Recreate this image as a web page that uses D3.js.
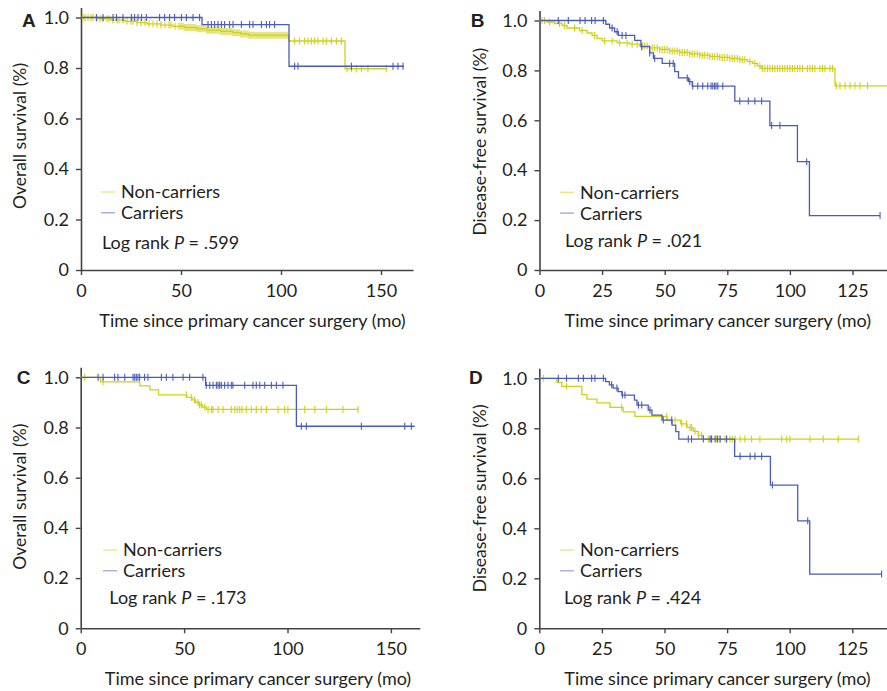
<!DOCTYPE html>
<html>
<head>
<meta charset="utf-8">
<script src="https://cdn.jsdelivr.net/npm/d3@7"></script>
<style>
  body { margin: 0; background: #fff; }
  svg text { font-family: Lato, "Noto Sans", sans-serif; fill: #231f20; }
</style>
</head>
<body>
<div id="vis"></div>
<script>
// survival curves: steps are [months, survival], censor marks are months

var yTicks = [0, 0.2, 0.4, 0.6, 0.8, 1.0];
var xTicksOS = [0, 50, 100, 150];
var xTicksDFS = [0, 25, 50, 75, 100, 125];
var seriesNames = ["Non-carriers", "Carriers"];
var pValues = [".599", ".021", ".173", ".424"];
var xTitle = "Time since primary cancer surgery (mo)";

// A - overall survival, whole cohort
var aNonSteps = [[0, 1], [8, 0.995], [15, 0.99], [22, 0.985], [28, 0.98], [33, 0.975], [40, 0.97], [46, 0.965],
  [52, 0.96], [58, 0.955], [63, 0.95], [70, 0.945], [76, 0.94], [80, 0.935], [84, 0.93], [104, 0.907], [132, 0.797]];
var aNonEnd = 153;
var aNonCensor = [1, 2, 3.5, 5, 6, 8, 9.5, 11, 13, 14, 16, 18, 19, 21, 23, 25, 26, 28, 30, 32, 34, 36, 38, 40, 42, 44, 45,
  47, 49, 50, 51, 52, 53, 54, 55, 56, 57, 58, 59, 60, 61, 62, 63, 64, 65, 66, 67, 68, 69, 70, 71, 72, 73, 74, 75, 76, 77,
  78, 79, 80, 81, 82, 83, 84, 85, 86, 87, 88, 89, 90, 91, 92, 93, 94, 95, 96, 97, 98, 99, 100, 101, 102, 103, 106.8, 109.3,
  111.8, 113.5, 115.2, 116.8, 118.5, 121, 122.7, 125.2, 127.7, 130.2, 133, 135.2, 137.7, 140.2, 143.5, 152.7];
var aCarSteps = [[0, 1], [60.5, 0.972], [104, 0.807]];
var aCarEnd = 161.5;
var aCarCensor = [7.7, 11, 16, 17.7, 21, 25.2, 26.8, 28.5, 30.2, 32.7, 39.3, 41.8, 44.3, 46.8, 50.2, 52.7, 56, 59.3, 63.5,
  65.2, 66.8, 68.5, 70.2, 71.8, 74.3, 76, 80.2, 84.3, 86, 90.2, 92.7, 94.3, 96.8, 106.8, 108.5, 135.2, 156, 158.5, 161];

// B - disease-free survival, whole cohort
var bNonSteps = [[0, 1], [3, 0.994], [6, 0.988], [9, 0.98], [11, 0.97], [16, 0.96], [19, 0.95], [21, 0.94], [23, 0.928],
  [25, 0.918], [31, 0.91], [36, 0.905], [40, 0.898], [44, 0.89], [48, 0.884], [52, 0.878], [56, 0.872], [60, 0.866],
  [64, 0.861], [68, 0.856], [72, 0.852], [76, 0.848], [80, 0.843], [83, 0.836], [85, 0.828], [87, 0.818], [88.5, 0.808],
  [118, 0.738]];
var bNonEnd = 139;
var bNonCensor = [1, 2, 4, 8, 10, 14, 17, 22, 26, 29, 32, 35, 37, 39, 41, 42, 43, 45, 46, 47, 48, 49, 50, 51, 52, 53, 54,
  55, 56, 57, 58, 59, 60, 61, 62, 63, 64, 65, 66, 67, 68, 69, 70, 71, 72, 73, 74, 75, 76, 77, 78, 79, 80, 81, 82, 84, 86,
  88, 89, 90, 91, 92, 93, 94, 95, 96, 97, 98, 99, 100, 101, 102, 103, 104, 105, 107, 108, 109, 110, 112, 113, 114, 116,
  117, 118.5, 120, 122, 124, 126, 128, 131];
var bCarSteps = [[0, 1], [26.5, 0.985], [28, 0.97], [30, 0.955], [31.5, 0.94], [38, 0.92], [40.5, 0.895], [44, 0.87],
  [45.5, 0.848], [49, 0.828], [54, 0.795], [55.5, 0.77], [59.5, 0.755], [61, 0.737], [78, 0.677], [92, 0.579],
  [103, 0.434], [107.8, 0.218]];
var bCarEnd = 136;
var bCarCensor = [7.5, 11.5, 16.2, 18.2, 20.8, 22.2, 25.5, 29, 31, 33, 34.5, 40.8, 44, 46, 52, 53.4, 59, 60, 61.2, 63.2,
  65.2, 67.2, 68.5, 69.2, 69.9, 70.5, 71.2, 73.2, 80, 83.4, 86, 88.7, 92.7, 96, 106.7, 136];

// C - overall survival, subgroup
var cNonSteps = [[0, 1], [9.5, 0.982], [28.6, 0.966], [33.5, 0.95], [37.6, 0.93], [51.3, 0.92], [53.8, 0.91],
  [55.5, 0.9], [57.3, 0.89], [59, 0.881], [60.8, 0.872]];
var cNonEnd = 134.5;
var cNonCensor = [1.9, 10.8, 51.1, 53.5, 55.1, 56.7, 57.5, 58.3, 60, 61.6, 63.2, 64, 66.4, 68.8, 72.8, 74.5, 75.7, 76.9,
  78, 80.1, 82.5, 84.9, 87.3, 89.8, 95.4, 98.6, 100.2, 108.3, 113.2, 118.8, 126.8, 134.1];
var cCarSteps = [[0, 1], [60.4, 0.968], [104.3, 0.805]];
var cCarEnd = 161.5;
var cCarCensor = [8.4, 10.8, 16.4, 18, 21.3, 25.3, 26.1, 26.9, 27.7, 28.5, 30.9, 32.5, 39, 41.4, 44.6, 49.5, 52.7, 59.1,
  60.7, 62.4, 64, 65.6, 66.4, 67.2, 68, 69.6, 71.2, 72.8, 73.6, 79.3, 83.3, 84.9, 86.6, 89, 92.2, 94.6, 97.8, 106.7, 109.1,
  135.7, 156.7, 159.9];

// D - disease-free survival, subgroup
var dNonSteps = [[0, 1], [7, 0.984], [9, 0.968], [17, 0.935], [19, 0.917], [23, 0.902], [28.2, 0.884], [33.5, 0.866],
  [38.2, 0.848], [51, 0.833], [56.5, 0.818], [59, 0.803], [61.5, 0.788], [63.5, 0.772], [65.5, 0.757]];
var dNonEnd = 127.4;
var dNonCensor = [1.6, 10.9, 32.9, 50.9, 54.2, 56.9, 58.8, 60.2, 60.8, 62.2, 63.5, 64.8, 67.5, 68.8, 70.8, 72.2, 74.2,
  76.2, 77.1, 78.2, 80.2, 82.1, 84.8, 88.1, 96.8, 98.8, 100.1, 108.1, 113.4, 119.4, 127.4];
var dCarSteps = [[0, 1], [26.5, 0.987], [28, 0.974], [29.5, 0.961], [31.5, 0.947], [33, 0.933], [38, 0.913], [39, 0.893],
  [43.5, 0.873], [45, 0.853], [49, 0.833], [53, 0.813], [54.5, 0.787], [55.7, 0.757], [78, 0.688], [92.3, 0.573],
  [103.2, 0.43], [108, 0.217]];
var dCarEnd = 136.7;
var dCarCensor = [7.6, 10.9, 15.6, 17.6, 20.9, 22.2, 25.6, 28.9, 31, 33.2, 34.2, 39.6, 40.9, 44.2, 49.5, 52.9, 59.5, 60.8,
  65.5, 68.2, 68.8, 70.2, 71.2, 72.2, 74.8, 80.2, 84.2, 86.1, 88.8, 93.1, 107.2, 136.7];

var width = 887;
var height = 691;
var yellow = "#d0d01c";
var blue = "#4a5cb6";
var axisColor = "#444";
var fontSize = "18px";

var canvas = d3.select("#vis")
        .append("svg")
        .attr("width", width)
        .attr("height", height);

// layout of the four panels (pixel positions measured on the figure)
var panels = [
  {letter: "A", lx: 22, ly: 26.7, x0: 81, unit: 2, xMax: 166, yOne: 17.5, yZero: 270, xTicks: xTicksOS,
   yTitle: "Overall survival (%)", ytx: 26, yty: 136, xtx: 252.5,
   legX: 101, legY: 192, logX: 102, logY: 242.7, p: pValues[0],
   non: [aNonSteps, aNonEnd, aNonCensor], car: [aCarSteps, aCarEnd, aCarCensor]},
  {letter: "B", lx: 470.7, ly: 26.7, x0: 539.5, unit: 2.504, xMax: 138.8, yOne: 20.5, yZero: 270, xTicks: xTicksDFS,
   yTitle: "Disease-free survival (%)", ytx: 486, yty: 141.7, xtx: 717.8,
   legX: 560, legY: 192.3, logX: 565, logY: 241, p: pValues[1],
   non: [bNonSteps, bNonEnd, bNonCensor], car: [bCarSteps, bCarEnd, bCarCensor]},
  {letter: "C", lx: 16.7, ly: 384, x0: 80.7, unit: 2.068, xMax: 164, yOne: 377.3, yZero: 628.3, xTicks: xTicksOS,
   yTitle: "Overall survival (%)", ytx: 26, yty: 496.7, xtx: 258,
   legX: 103, legY: 550, logX: 109.3, logY: 597.3, p: pValues[2],
   non: [cNonSteps, cNonEnd, cNonCensor], car: [cCarSteps, cCarEnd, cCarCensor]},
  {letter: "D", lx: 469, ly: 384, x0: 539.3, unit: 2.504, xMax: 138.8, yOne: 378.3, yZero: 628.3, xTicks: xTicksDFS,
   yTitle: "Disease-free survival (%)", ytx: 486, yty: 498.3, xtx: 717.5,
   legX: 560, legY: 550, logX: 564, logY: 597.3, p: pValues[3],
   non: [dNonSteps, dNonEnd, dNonCensor], car: [dCarSteps, dCarEnd, dCarCensor]}
];

function survivalAt(steps, t) {
  var s = steps[0][1];
  steps.forEach(function(d) { if (d[0] <= t) s = d[1]; });
  return s;
}

function styleAxis(g) {
  g.select(".domain").attr("stroke", axisColor).attr("stroke-width", 1.6);
  g.selectAll(".tick line").attr("stroke", axisColor).attr("stroke-width", 1.4);
  g.selectAll(".tick text").style("font-size", fontSize).attr("fill", "#231f20");
}

function drawPanel(p) {
  var x = d3.scaleLinear()
          .domain([0, p.xMax])
          .range([p.x0, p.x0 + p.unit * p.xMax]);
  var y = d3.scaleLinear()
          .domain([0, 1])
          .range([p.yZero, p.yOne]);
  var yAxisScale = y.copy().domain([0, 1.04]).range([p.yZero, y(1.04)]);

  var g = canvas.append("g");

  g.append("g")
        .attr("transform", `translate(0, ${p.yZero})`)
        .call(d3.axisBottom(x).tickValues(p.xTicks).tickSize(5).tickSizeOuter(0).tickPadding(9))
        .call(styleAxis);

  g.append("g")
        .attr("transform", `translate(${p.x0}, 0)`)
        .call(d3.axisLeft(yAxisScale).tickValues(yTicks).tickSize(5).tickSizeOuter(0).tickPadding(7)
              .tickFormat(function(d) { return d === 0 ? "0" : d3.format(".1f")(d); }))
        .call(styleAxis);

  var line = d3.line()
          .x(function(d) { return x(d[0]); })
          .y(function(d) { return y(d[1]); })
          .curve(d3.curveStepAfter);

  [[p.non, yellow], [p.car, blue]].forEach(function(sr) {
    var steps = sr[0][0], end = sr[0][1], censor = sr[0][2];
    var pts = steps.concat([[end, steps[steps.length - 1][1]]]);
    g.append("path")
        .attr("d", line(pts))
        .attr("fill", "none")
        .attr("stroke", sr[1])
        .attr("stroke-width", 1.3);
    g.selectAll(null)
        .data(censor)
        .enter()
        .append("line")
        .attr("x1", function(t) { return x(t); })
        .attr("x2", function(t) { return x(t); })
        .attr("y1", function(t) { return y(survivalAt(steps, t)) - 3.5; })
        .attr("y2", function(t) { return y(survivalAt(steps, t)) + 3.5; })
        .attr("stroke", sr[1])
        .attr("stroke-width", 1.1);
  });

  // panel letter
  g.append("text")
        .attr("x", p.lx)
        .attr("y", p.ly)
        .style("font-family", "'Liberation Sans', Arial, sans-serif")
        .style("font-weight", "bold")
        .style("font-size", "19px")
        .text(p.letter);

  g.append("text")
        .attr("transform", `translate(${p.ytx}, ${p.yty}) rotate(-90)`)
        .attr("text-anchor", "middle")
        .style("font-size", "17.5px")
        .text(p.yTitle);

  g.append("text")
        .attr("x", p.xtx)
        .attr("y", p.yZero + 57)
        .attr("text-anchor", "middle")
        .style("font-size", fontSize)
        .text(xTitle);

  // legend
  [yellow, blue].forEach(function(c, i) {
    var ly = p.legY + i * 20.8;
    g.append("line")
        .attr("x1", p.legX)
        .attr("x2", p.legX + 14)
        .attr("y1", ly)
        .attr("y2", ly)
        .attr("stroke", c)
        .attr("stroke-opacity", 0.6)
        .attr("stroke-width", 1.2);
    g.append("text")
        .attr("x", p.legX + 20)
        .attr("y", ly)
        .attr("dy", "0.36em")
        .style("font-size", fontSize)
        .text(seriesNames[i]);
  });

  var logText = g.append("text")
        .attr("x", p.logX)
        .attr("y", p.logY)
        .attr("dy", "0.36em")
        .style("font-size", fontSize);
  logText.append("tspan").text("Log rank ");
  logText.append("tspan").style("font-style", "italic").text("P");
  logText.append("tspan").text(" = " + p.p);
}

panels.forEach(drawPanel);
</script>
</body>
</html>
